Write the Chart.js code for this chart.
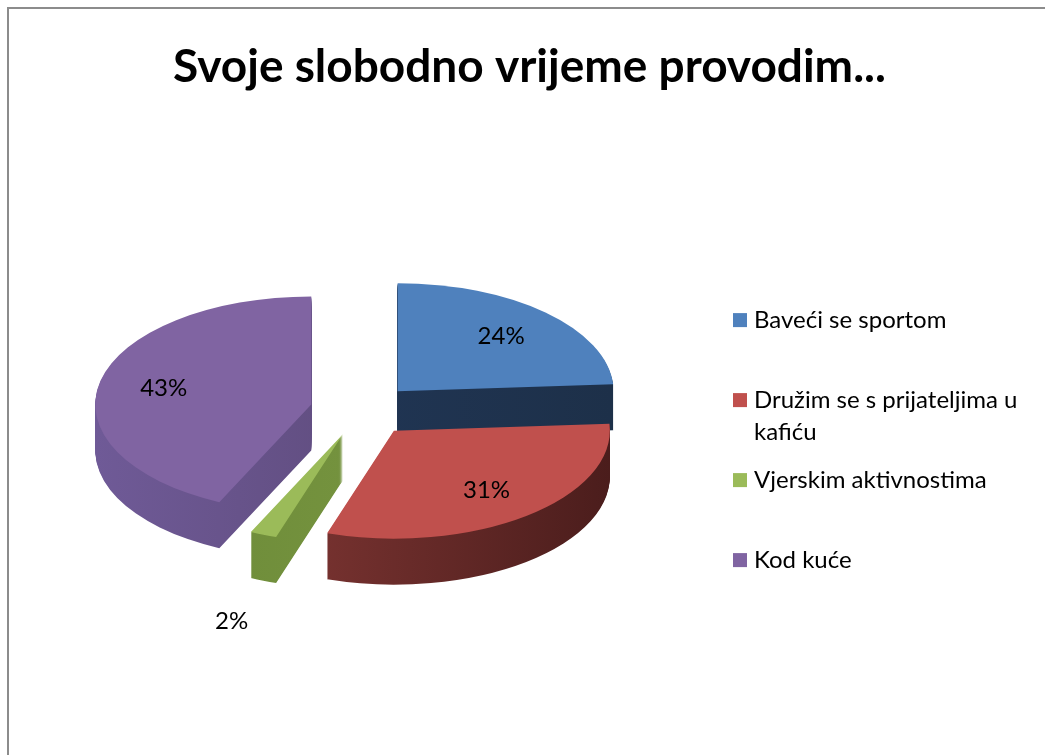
<!DOCTYPE html>
<html>
<head>
<meta charset="utf-8">
<script src="https://cdn.jsdelivr.net/npm/chart.js@4.4.1/dist/chart.umd.min.js"></script>
<style>
  html, body { margin: 0; padding: 0; background: #fff; }
  .frame {
    position: absolute; left: 7px; top: 7px; width: 1045px; height: 760px;
    border-left: 2px solid #8c8c8c; border-top: 2px solid #8c8c8c;
  }
  #pieChart { position: absolute; left: 0; top: 0; }
</style>
</head>
<body>
<div class="frame"></div>
<canvas id="pieChart" width="1045" height="755"></canvas>
<script>
  const titleText = "Svoje slobodno vrijeme provodim...";
  const categories = ["Baveći se sportom", "Družim se s prijateljima u kafiću", "Vjerskim aktivnostima", "Kod kuće"];
  const shares = [24, 31, 2, 43];
  const topColors = ["#4f81bd", "#c0504d", "#9bbb59", "#8064a2"];
  const sideColors = [
    ["#22385a", "#1d3049"],
    ["#8a3b38", "#4b1d1c"],
    ["#6b8937", "#7d9b45"],
    ["#6f5a97", "#574570"]
  ];

  const fontFamily = "Lato, 'Open Sans', sans-serif";
  const tilt = 0.5;     // vertical squash of the pie disc
  const depth = 46;     // thickness of the disc in px
  const explode = 52;   // how far each slice is pulled out

  function wrapText(ctx, text, maxWidth) {
    const words = text.split(" ");
    const lines = [];
    let line = "";
    words.forEach(w => {
      const test = line ? line + " " + w : w;
      if (line && ctx.measureText(test).width > maxWidth) {
        lines.push(line);
        line = w;
      } else {
        line = test;
      }
    });
    if (line) lines.push(line);
    return lines;
  }

  const midAngle = arc => (arc.startAngle + arc.endAngle) / 2;

  // pie drawn as a tilted, exploded disc with thickness, labels on top
  const pie3d = {
    id: "pie3d",
    beforeDatasetsDraw(chart) {
      const ctx = chart.ctx;
      const arcs = chart.getDatasetMeta(0).data;
      const cy = arcs[0].y;
      ctx.save();
      ctx.translate(0, cy);
      ctx.scale(1, tilt);
      ctx.translate(0, -cy);

      for (let d = depth; d > 0; d--) {
        arcs.forEach((arc, i) => {
          const a = midAngle(arc);
          ctx.save();
          ctx.translate(Math.cos(a) * explode, Math.sin(a) * explode + d / tilt);
          const g = ctx.createLinearGradient(arc.x - arc.outerRadius, 0, arc.x + arc.outerRadius, 0);
          g.addColorStop(0, sideColors[i][0]);
          g.addColorStop(1, sideColors[i][1]);
          const base = arc.options;
          arc.options = Object.assign({}, base, { backgroundColor: g });
          arc.draw(ctx);
          arc.options = base;
          ctx.restore();
        });
      }

      arcs.forEach(arc => {
        const a = midAngle(arc);
        ctx.save();
        ctx.translate(Math.cos(a) * explode, Math.sin(a) * explode);
        arc.draw(ctx);
        ctx.restore();
      });
      ctx.restore();

      ctx.save();
      ctx.font = `24px ${fontFamily}`;
      ctx.fillStyle = "#000";
      ctx.textAlign = "center";
      ctx.textBaseline = "middle";
      arcs.forEach((arc, i) => {
        const a = midAngle(arc);
        const small = shares[i] < 5;
        const r = explode + arc.outerRadius * (small ? 1.4 : 0.7);
        const px = arc.x + Math.cos(a) * r;
        const py = arc.y + Math.sin(a) * r;
        ctx.fillText(`${shares[i]}%`, px, arc.y + (py - arc.y) * tilt + (small ? depth : 0));
      });
      ctx.restore();
    },
    beforeDatasetDraw() {
      return false; // slices already drawn above
    }
  };

  function drawLegend(chart, box) {
    const ctx = chart.ctx;
    const rowGap = 80;
    const lineGap = 32;
    const centerY = (box.top + box.bottom) / 2 + 30;
    let y = centerY - rowGap * (categories.length - 1) / 2;
    ctx.save();
    ctx.font = `24px ${fontFamily}`;
    ctx.textBaseline = "middle";
    ctx.textAlign = "left";
    categories.forEach((label, i) => {
      ctx.fillStyle = topColors[i];
      ctx.fillRect(box.left + 23, y - 7, 14, 14);
      ctx.fillStyle = "#000";
      wrapText(ctx, label, box.right - box.left - 52).forEach((ln, j) => {
        ctx.fillText(ln, box.left + 44, y + j * lineGap);
      });
      y += rowGap;
    });
    ctx.restore();
  }

  const sideLegend = {
    id: "sideLegend",
    start(chart) {
      const box = {
        position: "right",
        weight: 1000,
        fullSize: false,
        options: {},
        width: 0, height: 0, left: 0, top: 0, right: 0, bottom: 0,
        isHorizontal() { return false; },
        update(maxWidth, maxHeight) {
          this.width = 335;
          this.height = maxHeight;
        },
        draw() { drawLegend(chart, this); }
      };
      Chart.layouts.addBox(chart, box);
    }
  };

  new Chart(document.getElementById("pieChart"), {
    type: "pie",
    data: {
      labels: categories,
      datasets: [{
        data: shares,
        backgroundColor: topColors,
        borderWidth: 0,
        offset: 0,
        hoverOffset: 0,
        radius: 216
      }]
    },
    options: {
      responsive: false,
      animation: false,
      events: [],
      layout: { padding: { left: 14, right: 0, top: 0, bottom: 30 } },
      plugins: {
        legend: { display: false },
        tooltip: { enabled: false },
        title: {
          display: true,
          text: titleText,
          color: "#000",
          font: { family: fontFamily, size: 46, weight: "bold" },
          padding: { top: 40, bottom: 0 }
        }
      }
    },
    plugins: [pie3d, sideLegend]
  });
</script>
</body>
</html>
